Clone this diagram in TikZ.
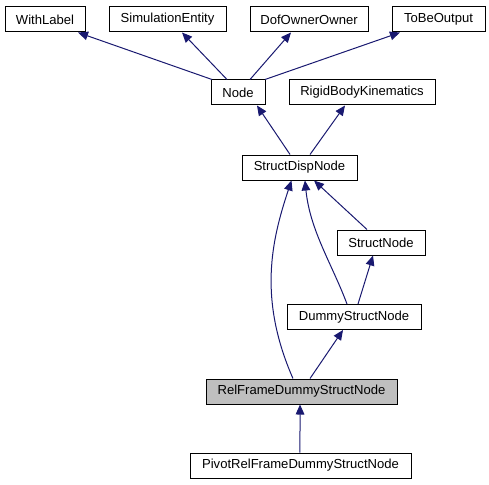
\documentclass[tikz,border=0pt]{standalone}
\definecolor{EdgeBlue}{RGB}{25,25,112}
\definecolor{HiGray}{RGB}{191,191,191}
\usepackage{fontspec}
\setmainfont{Liberation Sans}
\usepackage{tikz}
\usetikzlibrary{positioning, arrows.meta, calc}

\begin{document}
\begin{tikzpicture}[x=0.75pt, y=-0.75pt,
    cls/.style={draw, line width=0.75pt, minimum height=18.75pt, inner sep=0pt, font=\fontsize{9.8}{11}\selectfont},
    clshl/.style={cls, fill=HiGray},
    inh/.style={EdgeBlue, line width=0.75pt, -{Triangle[length=7.5pt, width=6.5pt]}}]
          \useasboundingbox (0,0) rectangle (489,485);
          % top row
          \node[cls, minimum width=60pt] (withlabel) at (45,19.5) {WithLabel};
          \node[cls, minimum width=87.75pt] (simentity) at (167.5,19.5) {SimulationEntity};
          \node[cls, minimum width=88.5pt] (dofowner) at (309,19.5) {DofOwnerOwner};
          \node[cls, minimum width=69.75pt] (tobeout) at (438.5,19.5) {ToBeOutput};
          % second row
          \node[cls, minimum width=40.5pt] (node) at (238,92.5) {Node};
          \node[cls, minimum width=109.5pt] (rigidkin) at (362,92.5) {RigidBodyKinematics};
          % rest
          \node[cls, minimum width=86.25pt] (structdisp) at (299.5,167.5) {StructDispNode};
          \node[cls, minimum width=66pt] (structnode) at (381,242.5) {StructNode};
          \node[cls, minimum width=100.5pt] (dummy) at (354,317) {DummyStructNode};
          \node[clshl, minimum width=143.25pt] (relframe) at (301.5,391.5) {RelFrameDummyStructNode};
          \node[cls, minimum width=165.75pt] (pivot) at (300.5,465.5) {PivotRelFrameDummyStructNode};

          \draw[inh] ([xshift=-19.5pt]node.north) -- ([xshift=24.75pt]withlabel.south);
          \draw[inh] ([xshift=-8.25pt]node.north) -- ([xshift=10.9pt]simentity.south);
          \draw[inh] ([xshift=9pt]node.north) -- ([xshift=-13.5pt]dofowner.south);
          \draw[inh] ([xshift=20.25pt]node.north) -- ([xshift=-28.9pt]tobeout.south);
          \draw[inh] ([xshift=-7.1pt]structdisp.north) -- ([xshift=14.25pt]node.south);
          \draw[inh] ([xshift=7.9pt]structdisp.north) -- ([xshift=-12.75pt]rigidkin.south);
          \draw[inh] ([xshift=-10.5pt]structnode.north) -- ([xshift=10.9pt]structdisp.south);
          \draw[inh] ([xshift=-5.25pt]dummy.north) .. controls +(-15,-40) and +(5,50) .. ([xshift=4.1pt]structdisp.south);
          \draw[inh] ([xshift=3pt]dummy.north) -- ([xshift=-6pt]structnode.south);
          \draw[inh] ([xshift=-6.4pt]relframe.north) .. controls +(-35,-80) and +(-20,60) .. ([xshift=-6pt]structdisp.south);
          \draw[inh] ([xshift=6.4pt]relframe.north) -- ([xshift=-8.25pt]dummy.south);
          \draw[inh] ([xshift=-0.4pt]pivot.north) -- ([xshift=-1.1pt]relframe.south);
        \end{tikzpicture}
\end{document}
